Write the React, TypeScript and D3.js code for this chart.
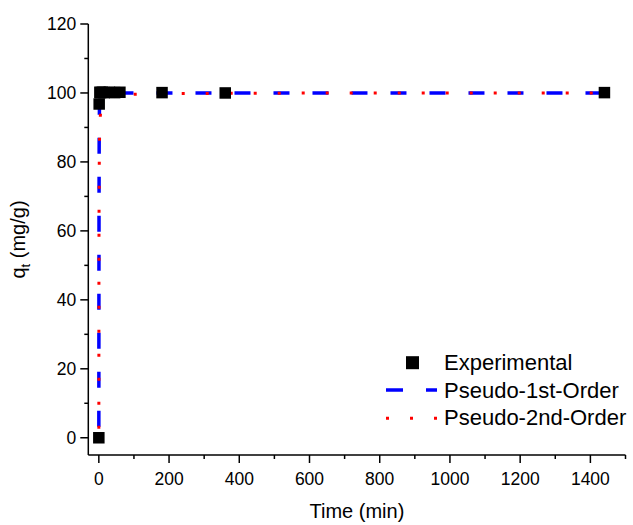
import React from "react";
import * as d3 from "d3";

const expTime = [0, 1, 3, 5, 10, 15, 30, 45, 60, 180, 360, 1440];
const expQ = [0, 96.8, 100.2, 100.1, 100.2, 100.1, 100.2, 100.1, 100.2, 100.1, 100, 100.1];

const pfoTime = [0, 0.25, 0.5, 1, 2, 3, 5, 10, 30, 60, 180, 360, 720, 1440];
const pfoQ = [0, 40, 64, 87, 98.3, 99.8, 100, 100, 100, 100, 100, 100, 100, 100];

const psoTime = [0, 0.25, 0.5, 1, 2, 3, 5, 10, 30, 60, 180, 360, 720, 1440];
const psoQ = [0, 45, 62, 77, 87, 91, 94.5, 97, 99, 99.5, 99.8, 99.9, 100, 100];

const xTicks = [0, 200, 400, 600, 800, 1000, 1200, 1400];
const yTicks = [0, 20, 40, 60, 80, 100, 120];
const legendLabels = ["Experimental", "Pseudo-1st-Order", "Pseudo-2nd-Order"];

const W = 633;
const H = 525;
const FONT = "'Liberation Sans', Arial, sans-serif";

export default function App() {
  const x = d3.scaleLinear().domain([-30, 1500]).range([88.3, 625.5]);
  const y = d3.scaleLinear().domain([-5, 120]).range([455, 24]);

  const line = d3
    .line<[number, number]>()
    .x((d) => x(d[0]))
    .y((d) => y(d[1]));

  const pfo: [number, number][] = pfoTime.map((t, i) => [t, pfoQ[i]]);
  const pso: [number, number][] = psoTime.map((t, i) => [t, psoQ[i]]);

  const xMinor = d3.range(100, 1501, 200);
  const yMinor = d3.range(10, 121, 20);
  const sq = 11.5;

  const x0 = x.range()[0];
  const yb = y.range()[0];

  return (
    <svg
      width={W}
      height={H}
      style={{ position: "absolute", left: 0, top: 0, background: "#fff" }}
      fontFamily={FONT}
    >
      {/* curves */}
      <path
        d={line(pfo) || ""}
        fill="none"
        stroke="#0000FF"
        strokeWidth={3.5}
        strokeDasharray="16 23"
        strokeDashoffset={28}
      />
      <path
        d={line(pso) || ""}
        fill="none"
        stroke="#FF0000"
        strokeWidth={3}
        strokeDasharray="3 21"
        strokeDashoffset={15}
      />
      {/* experimental points */}
      {expTime.map((t, i) => (
        <rect
          key={i}
          x={x(t) - sq / 2}
          y={y(expQ[i]) - sq / 2}
          width={sq}
          height={sq}
          fill="#000"
        />
      ))}

      {/* axes */}
      <g stroke="#000" strokeWidth={1.5}>
        <line x1={x0} x2={x0} y1={y(120)} y2={yb} />
        <line x1={x0} x2={x.range()[1]} y1={yb} y2={yb} />
        {yTicks.map((v) => (
          <line key={"yt" + v} x1={x0 - 8} x2={x0} y1={y(v)} y2={y(v)} />
        ))}
        {yMinor.map((v) => (
          <line key={"ym" + v} x1={x0 - 4} x2={x0} y1={y(v)} y2={y(v)} />
        ))}
        {xTicks.map((v) => (
          <line key={"xt" + v} x1={x(v)} x2={x(v)} y1={yb} y2={yb + 8} />
        ))}
        {xMinor.map((v) => (
          <line key={"xm" + v} x1={x(v)} x2={x(v)} y1={yb} y2={yb + 4} />
        ))}
      </g>
      {yTicks.map((v) => (
        <text
          key={"yl" + v}
          x={x0 - 12}
          y={y(v)}
          dy="0.35em"
          textAnchor="end"
          fontSize={17.5}
        >
          {v}
        </text>
      ))}
      {xTicks.map((v) => (
        <text
          key={"xl" + v}
          x={x(v)}
          y={yb + 30}
          textAnchor="middle"
          fontSize={17.5}
        >
          {v}
        </text>
      ))}
      <text
        x={(x0 + x.range()[1]) / 2}
        y={518}
        textAnchor="middle"
        fontSize={20}
      >
        Time (min)
      </text>
      <text
        transform={`translate(25,${(y(120) + yb) / 2}) rotate(-90)`}
        textAnchor="middle"
        fontSize={20}
      >
        q<tspan fontSize={13} dy="5">t</tspan>
        <tspan dy="-5"> (mg/g)</tspan>
      </text>

      {/* legend */}
      <rect x={412.5 - 6.5} y={362.7 - 6.5} width={13} height={13} fill="#000" />
      <line x1={386} x2={437} y1={390} y2={390} stroke="#0000FF" strokeWidth={3.5} strokeDasharray="17 23" />
      <line x1={386} x2={438} y1={418.3} y2={418.3} stroke="#FF0000" strokeWidth={3} strokeDasharray="3 21" />
      {legendLabels.map((l, i) => (
        <text key={l} x={444} y={362.5 + i * 27.5} dy="0.35em" fontSize={22}>
          {l}
        </text>
      ))}
    </svg>
  );
}
